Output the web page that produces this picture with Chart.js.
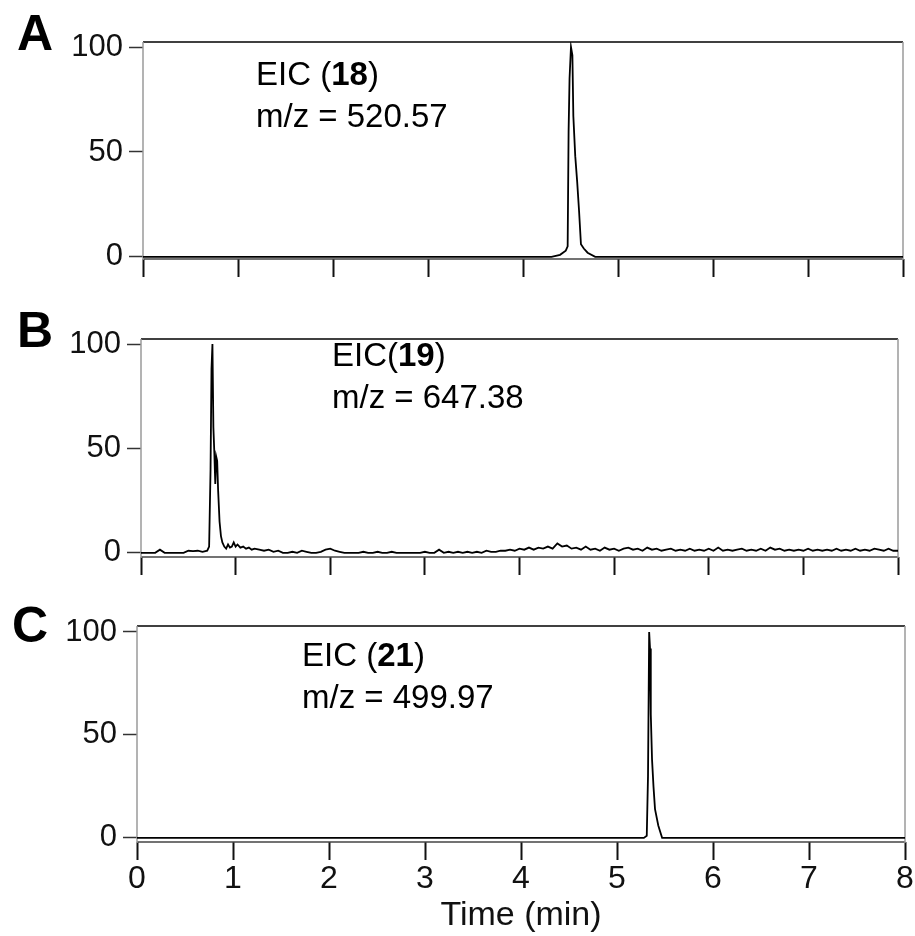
<!DOCTYPE html>
<html>
<head>
<meta charset="utf-8">
<script src="https://cdn.jsdelivr.net/npm/chart.js@4.4.1/dist/chart.umd.min.js"></script>
<style>
  body { margin: 0; background: #fff; }
  #wrap { position: relative; width: 915px; height: 936px; overflow: hidden; font-family: "Liberation Sans", Arial, sans-serif; }
  canvas { position: absolute; left: 0; }
  .letter { position: absolute; font-weight: bold; font-size: 50px; line-height: 50px; color: #000; }
  .note { position: absolute; font-size: 33px; line-height: 42px; color: #000; white-space: nowrap; }
</style>
</head>
<body>
<div id="wrap">
  <canvas id="chartA" width="915" height="290" style="top:0px"></canvas>
  <canvas id="chartB" width="915" height="295" style="top:290px"></canvas>
  <canvas id="chartC" width="915" height="351" style="top:585px"></canvas>
  <div class="letter" style="left:17px; top:8px">A</div>
  <div class="letter" style="left:17px; top:305px">B</div>
  <div class="letter" style="left:12px; top:600px">C</div>
  <div class="note" style="left:256px; top:53px">EIC (<b>18</b>)<br>m/z = 520.57</div>
  <div class="note" style="left:332px; top:334px">EIC(<b>19</b>)<br>m/z = 647.38</div>
  <div class="note" style="left:302px; top:634px">EIC (<b>21</b>)<br>m/z = 499.97</div>
</div>
<script>
// tick labels
var xTicks = [0, 1, 2, 3, 4, 5, 6, 7, 8];
var yTicks = [0, 50, 100];

// panel A - EIC (18), m/z 520.57
var aTime = [0, 4.30, 4.39, 4.45, 4.47, 4.48, 4.49, 4.505, 4.52, 4.53, 4.55, 4.57, 4.59, 4.61, 4.64, 4.68, 4.76, 8];
var aValue = [0, 0, 1, 3, 5, 60, 85, 100, 96, 67, 48, 36, 22, 6, 4, 2, 0, 0];

// panel B - EIC (19), m/z 647.38
var bTime = [0.00, 0.05, 0.10, 0.15, 0.20, 0.25, 0.30, 0.35, 0.40, 0.45, 0.50, 0.55, 0.60, 0.65, 0.70,
  0.72, 0.735, 0.745, 0.755, 0.765, 0.775, 0.785, 0.795, 0.805, 0.815, 0.83, 0.845, 0.86, 0.88, 0.90,
  0.92, 0.94, 0.96, 0.98, 1.00, 1.02, 1.05, 1.08, 1.11, 1.14, 1.17, 1.20, 1.25, 1.30, 1.35, 1.40,
  1.45, 1.50, 1.55, 1.60, 1.65, 1.70, 1.75, 1.80, 1.85, 1.90, 1.95, 2.00, 2.05, 2.10, 2.15, 2.20,
  2.25, 2.30, 2.35, 2.40, 2.45, 2.50, 2.55, 2.60, 2.65, 2.70, 2.75, 2.80, 2.85, 2.90, 2.95, 3.00,
  3.05, 3.10, 3.15, 3.20, 3.25, 3.30, 3.35, 3.40, 3.45, 3.50, 3.55, 3.60, 3.65, 3.70, 3.75, 3.80,
  3.85, 3.90, 3.95, 4.00, 4.05, 4.10, 4.15, 4.20, 4.25, 4.30, 4.35, 4.40, 4.45, 4.50, 4.55, 4.60,
  4.65, 4.70, 4.75, 4.80, 4.85, 4.90, 4.95, 5.00, 5.05, 5.10, 5.15, 5.20, 5.25, 5.30, 5.35, 5.40,
  5.45, 5.50, 5.55, 5.60, 5.65, 5.70, 5.75, 5.80, 5.85, 5.90, 5.95, 6.00, 6.05, 6.10, 6.15, 6.20,
  6.25, 6.30, 6.35, 6.40, 6.45, 6.50, 6.55, 6.60, 6.65, 6.70, 6.75, 6.80, 6.85, 6.90, 6.95, 7.00,
  7.05, 7.10, 7.15, 7.20, 7.25, 7.30, 7.35, 7.40, 7.45, 7.50, 7.55, 7.60, 7.65, 7.70, 7.75, 7.80,
  7.85, 7.90, 7.95, 8.00];
var bValue = [0, 0, 0, 0, 1.5, 0, 0, 0, 0, 0, 1, 0.8, 1, 0.5, 1,
  3, 40, 88, 100, 60, 48, 33, 46, 44, 30, 15, 8, 5, 3, 2,
  4, 2.5, 3, 5, 3, 4, 2.5, 3, 2, 2.5, 1.5, 2, 1.5, 1, 1.5, 0.5,
  1, 0, 0, 0.5, 0, 1, 0.5, 0, 0, 0.5, 1.5, 2, 1, 0.5, 0, 0,
  0, 0, 0.5, 0, 0, 0.5, 0, 0, 0.5, 0, 0, 0, 0, 0, 0, 0.5,
  0, 0, 1.5, 0, 0.5, 0, 0.5, 0, 0.5, 0, 0.5, 0, 1, 0.5, 0.5, 1,
  1, 1.5, 1, 2, 1.5, 2.5, 1.5, 2.5, 2, 3, 2, 4.5, 3, 3.5, 2, 2.5,
  1.5, 3, 1.5, 2, 1, 2.5, 1.5, 2, 1, 2, 2.5, 1.5, 2, 1, 2.5, 1.5,
  2, 1, 1.5, 2, 1, 1.5, 1, 2, 1, 1.5, 1, 2, 1, 2.5, 1, 1.5,
  1, 1.5, 2, 1, 1.5, 1, 2, 1, 2.5, 1.5, 2, 1, 1.5, 1, 1.5, 1,
  2, 1, 1.5, 1, 1.5, 1, 2, 1, 1.5, 1, 2, 1, 1.5, 1, 2, 1.5,
  1, 2, 1, 1];

// panel C - EIC (21), m/z 499.97
var cTime = [0, 5.28, 5.31, 5.323, 5.335, 5.344, 5.352, 5.365, 5.38, 5.396, 5.43, 5.45, 5.47, 8];
var cValue = [0, 0, 1, 30, 100, 92, 60, 38, 25, 14, 6, 3, 0, 0];

function toPoints(t, v) {
  var pts = [];
  for (var i = 0; i < t.length; i++) pts.push({ x: t[i], y: v[i] });
  return pts;
}

// frame around the plot area
var framePlugin = {
  id: 'frame',
  beforeDatasetsDraw: function (chart) {
    var a = chart.chartArea, ctx = chart.ctx;
    ctx.save();
    ctx.lineWidth = 1.5;
    ctx.strokeStyle = '#000';
    ctx.beginPath(); ctx.moveTo(a.left, a.top); ctx.lineTo(a.right, a.top); ctx.stroke();
    ctx.strokeStyle = '#444';
    ctx.beginPath(); ctx.moveTo(a.left, a.bottom); ctx.lineTo(a.right, a.bottom); ctx.stroke();
    ctx.strokeStyle = '#9a9a9a';
    ctx.beginPath(); ctx.moveTo(a.left, a.top); ctx.lineTo(a.left, a.bottom + 1); ctx.stroke();
    ctx.beginPath(); ctx.moveTo(a.right, a.top); ctx.lineTo(a.right, a.bottom + 1); ctx.stroke();
    ctx.restore();
  }
};

function makePanel(id, pts, box, yMin, yMax, showLabels) {
  var canvas = document.getElementById(id);
  var H = canvas.height;
  return new Chart(canvas.getContext('2d'), {
    type: 'scatter',
    data: {
      datasets: [{
        data: pts,
        showLine: true,
        borderColor: '#000',
        borderWidth: 1.8,
        pointRadius: 0,
        tension: 0
      }]
    },
    options: {
      responsive: false,
      animation: false,
      devicePixelRatio: 1,
      layout: { padding: { top: box.top, right: 915 - box.right, left: 0, bottom: 0 } },
      plugins: { legend: { display: false }, tooltip: { enabled: false } },
      scales: {
        x: {
          type: 'linear', min: 0, max: 8,
          afterBuildTicks: function (s) { s.ticks = xTicks.map(function (v) { return { value: v }; }); },
          afterFit: function (s) { s.height = H - box.bottom; },
          border: { display: false },
          grid: { drawOnChartArea: false, drawTicks: true, tickLength: 18, tickColor: '#111', tickWidth: 2 },
          ticks: {
            display: showLabels, padding: 0, maxRotation: 0, autoSkip: false,
            color: '#111', font: { family: '"Liberation Sans", Arial, sans-serif', size: 32 }
          },
          title: {
            display: showLabels, text: 'Time (min)', color: '#111', padding: { top: 0, bottom: 0 },
            font: { family: '"Liberation Sans", Arial, sans-serif', size: 34 }
          }
        },
        y: {
          type: 'linear', min: yMin, max: yMax,
          afterBuildTicks: function (s) { s.ticks = yTicks.map(function (v) { return { value: v }; }); },
          afterFit: function (s) { s.width = box.left; },
          border: { display: false },
          grid: { drawOnChartArea: false, drawTicks: true, tickLength: 14, tickColor: '#333', tickWidth: 1.5 },
          ticks: {
            padding: 6, color: '#111',
            font: { family: '"Liberation Sans", Arial, sans-serif', size: 31 }
          }
        }
      }
    },
    plugins: [framePlugin]
  });
}

// boxes are in canvas coordinates
makePanel('chartA', toPoints(aTime, aValue), { left: 143, right: 903, top: 42, bottom: 259 }, -1, 102.4, false);
makePanel('chartB', toPoints(bTime, bValue), { left: 141, right: 898, top: 49, bottom: 267 }, -2, 102.4, false);
makePanel('chartC', toPoints(cTime, cValue), { left: 137, right: 905, top: 41, bottom: 257 }, -2, 102.9, true);
</script>
</body>
</html>
